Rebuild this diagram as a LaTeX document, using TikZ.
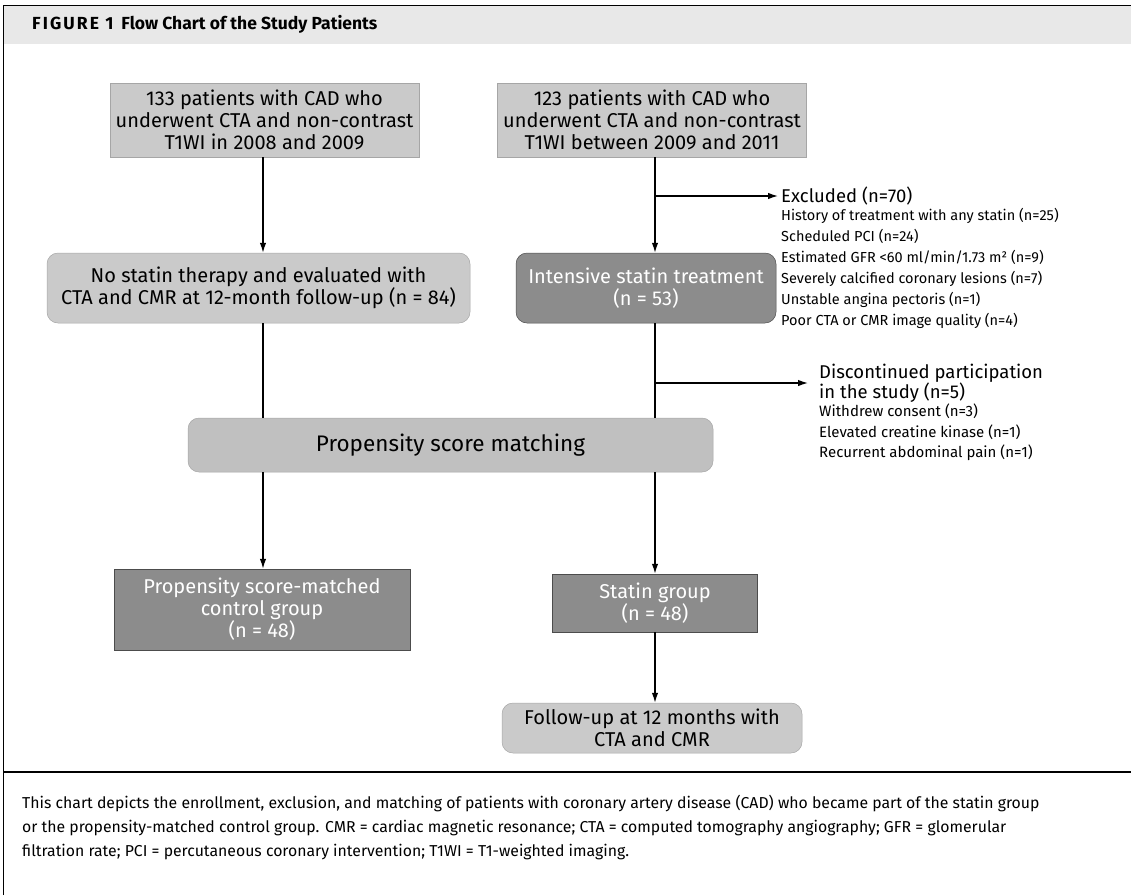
\documentclass[tikz,border=0pt]{standalone}
\usepackage{fontspec}
\setmainfont{Fira Sans}
\usetikzlibrary{arrows.meta}
\definecolor{boxlight}{RGB}{202,202,202}
\definecolor{boxmid}{RGB}{192,192,192}
\definecolor{boxdark}{RGB}{140,140,140}
\definecolor{headband}{RGB}{232,232,232}
\newcommand\fsz[2]{\fontsize{#1}{#2}\selectfont}
\tikzset{
	box/.style={inner sep=0pt, align=center, draw=black!35, line width=0.5pt, font=\fsz{20}{22}},
	lightbox/.style={box, fill=boxlight, text=black},
	darkbox/.style={box, fill=boxdark, draw=black!70, text=white},
	roundbox/.style={rounded corners=11pt},
	link/.style={line width=1.3pt, -{Latex[length=10pt,width=6.5pt]}},
	plain/.style={line width=1.3pt},
	headtext/.style={anchor=north west, inner sep=0pt, align=left, font=\fsz{18.5}{20}},
	listtext/.style={anchor=north west, inner sep=0pt, align=left, font=\fsz{14.5}{21}}
}

\begin{document}
\begin{tikzpicture}[x=1pt,y=-1pt]
			%%%%% START %%%%%
			\useasboundingbox (0,0) rectangle (1131,895);
			
			% frame and header
			\fill[headband] (3,5) rectangle (1131,44);
			\draw[line width=1pt] (3,895) -- (3,5) -- (1131,5);
			\draw[line width=1.2pt] (3,772) -- (1131,772);
			\node[anchor=west, inner sep=0pt, font=\fsz{17.5}{19}\bfseries] (figtitle) at (32,24)
				{{\addfontfeature{LetterSpace=12}FIGURE 1}\hspace{8pt}Flow Chart of the Study Patients};
			
			% columns
			\coordinate (lcol) at (263,0);
			\coordinate (rcol) at (655,0);
			
			% boxes
			\node[lightbox, minimum width=309pt, minimum height=74pt] (tl) at (264.5,120)
				{133 patients with CAD who\\underwent CTA and non-contrast\\T1WI in 2008 and 2009};
			\node[lightbox, minimum width=309pt, minimum height=74pt] (tr) at (652,120)
				{123 patients with CAD who\\underwent CTA and non-contrast\\T1WI between 2009 and 2011};
			\node[lightbox, roundbox, minimum width=423pt, minimum height=70pt] (nostatin) at (258.5,288)
				{No statin therapy and evaluated with\\CTA and CMR at 12-month follow-up (n = 84)};
			\node[darkbox, roundbox, minimum width=260pt, minimum height=70pt] (intensive) at (646,288)
				{Intensive statin treatment\\(n = 53)};
			\node[lightbox, roundbox, fill=boxmid, minimum width=525pt, minimum height=54pt, font=\fsz{22.5}{24}] (psm) at (450.5,445)
				{Propensity score matching};
			\node[darkbox, minimum width=296pt, minimum height=81pt] (control) at (262,609.5)
				{Propensity score-matched\\control group\\(n = 48)};
			\node[darkbox, minimum width=205pt, minimum height=58pt] (statin) at (655,603)
				{Statin group\\(n = 48)};
			\node[lightbox, roundbox, minimum width=300pt, minimum height=50pt] (followup) at (652,728)
				{Follow-up at 12 months with\\CTA and CMR};
			
			% side notes
			\node[anchor=west, inner sep=0pt, font=\fsz{18.5}{20}] (excl) at (781,196) {Excluded (n=70)};
			\node[listtext] (excllist) at (781,208)
				{History of treatment with any statin (n=25)\\Scheduled PCI (n=24)\\Estimated GFR <60 ml/min/1.73 m² (n=9)\\Severely calcified coronary lesions (n=7)\\Unstable angina pectoris (n=1)\\Poor CTA or CMR image quality (n=4)};
			\node[headtext] (disc) at (819,364)
				{Discontinued participation\\in the study (n=5)};
			\node[listtext, font=\fsz{15}{20.5}] (disclist) at (819,404)
				{Withdrew consent (n=3)\\Elevated creatine kinase (n=1)\\Recurrent abdominal pain (n=1)};
			
			% connectors
			\coordinate (exclsplit) at (655,196);
			\coordinate (discsplit) at (655,383);
			\coordinate (disctip) at (808,383);
			\draw[link] (tl.south -| lcol) -- (nostatin.north -| lcol);
			\draw[plain] (nostatin.south -| lcol) -- (psm.north -| lcol);
			\draw[link] (psm.south -| lcol) -- (control.north -| lcol);
			\draw[link] (tr.south -| rcol) -- (intensive.north -| rcol);
			\draw[plain] (intensive.south -| rcol) -- (psm.north -| rcol);
			\draw[link] (psm.south -| rcol) -- (statin.north -| rcol);
			\draw[link] (statin.south -| rcol) -- (followup.north -| rcol);
			\draw[link] (exclsplit) -- ([xshift=-3pt]excl.west);
			\draw[link] (discsplit) -- (disctip);
			
			% caption
			\node[anchor=base west, inner sep=0pt, font=\fsz{15.8}{24}] (cap1) at (22,808)
				{This chart depicts the enrollment, exclusion, and matching of patients with coronary artery disease (CAD) who became part of the statin group};
			\node[anchor=base west, inner sep=0pt, font=\fsz{15.8}{24}] (cap2) at (22,832)
				{or the propensity-matched control group. CMR = cardiac magnetic resonance; CTA = computed tomography angiography; GFR = glomerular};
			\node[anchor=base west, inner sep=0pt, font=\fsz{15.8}{24}] (cap3) at (22,856)
				{filtration rate; PCI = percutaneous coronary intervention; T1WI = T1-weighted imaging.};
			%%%%% END %%%%%
\end{tikzpicture}
\end{document}
